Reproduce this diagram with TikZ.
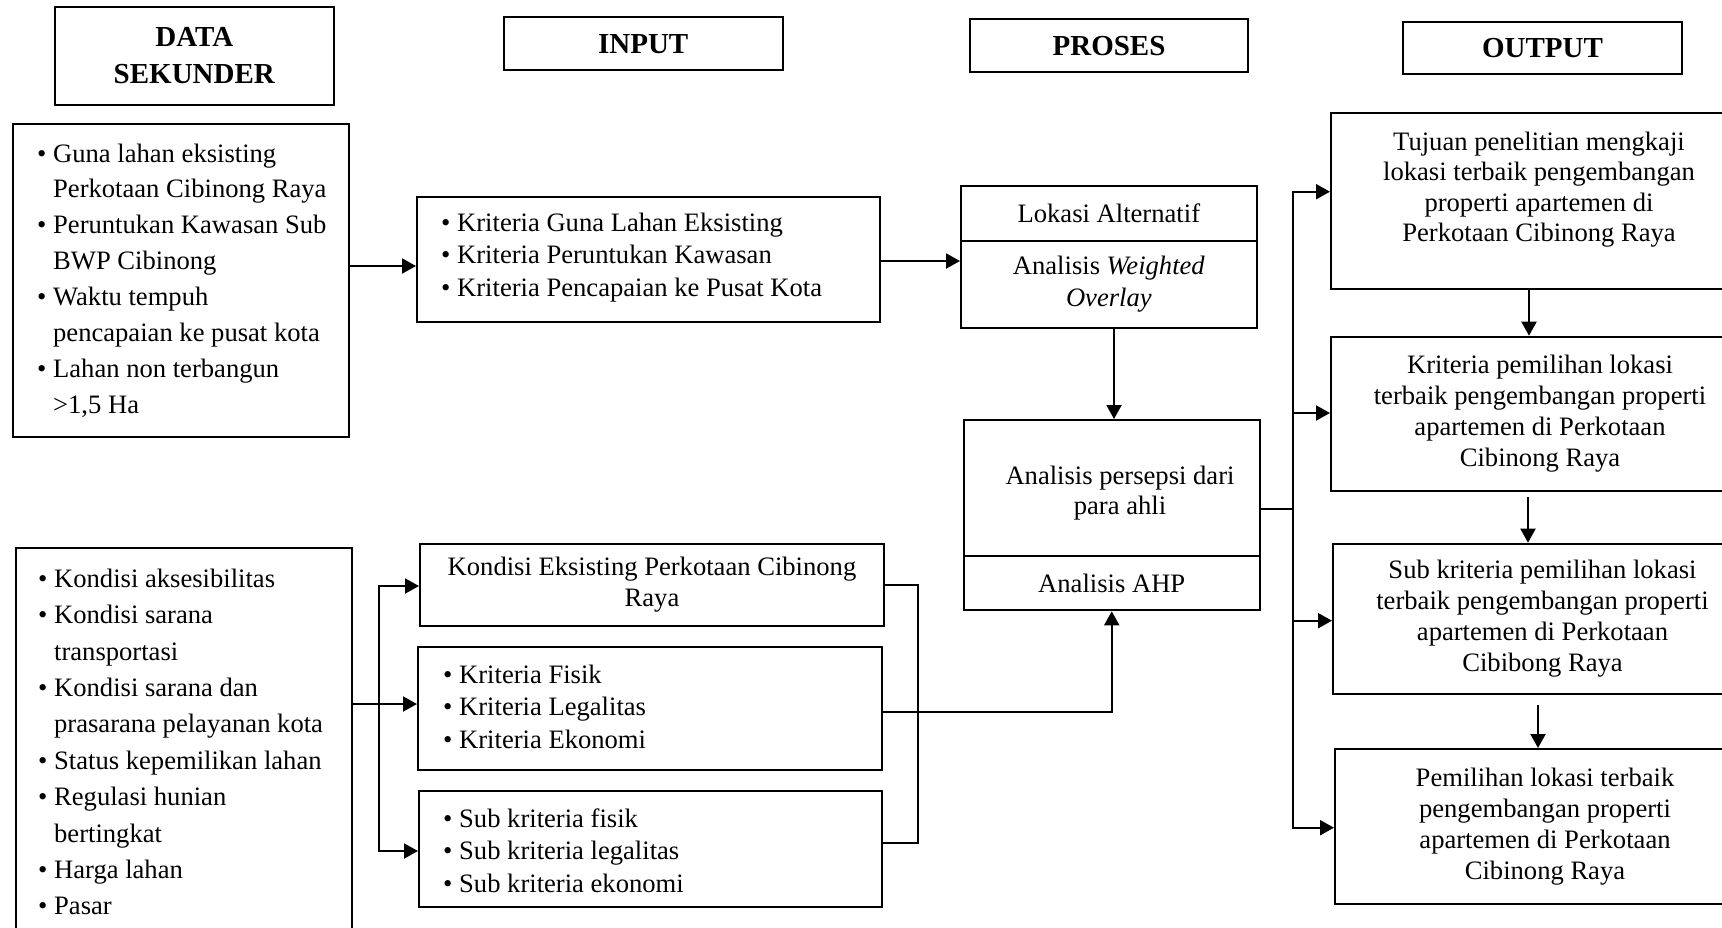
\documentclass[tikz,border=0pt]{standalone}
\usepackage{fontspec}
\setmainfont{Liberation Serif}
\usetikzlibrary{arrows.meta}
\newcommand\myb{\textbullet\ }
\newcommand\myi{\phantom{\textbullet\ }}
\begin{document}
\begin{tikzpicture}[x=1pt,y=-1pt,
  box/.style={draw,line width=2pt,inner sep=0pt,anchor=north west},
  hd/.style={font=\fontsize{29}{37}\selectfont\bfseries,align=center},
  ctr/.style={font=\fontsize{26.6}{31}\selectfont,align=center},
  lst/.style={inner sep=0pt,anchor=west,align=left},
  ln/.style={line width=2pt},
  arr/.style={line width=2pt,-{Triangle[length=14pt,width=15pt]}}]
\useasboundingbox (0,0) rectangle (1722,927);
\clip (0,0) rectangle (1722,927);
\fill[white] (0,0) rectangle (1722,927);

% headers
\node[box,hd,minimum width=279.4pt,minimum height=98pt] (hdata) at (53.6,6) {DATA\\SEKUNDER};
\node[box,hd,minimum width=279pt,minimum height=53.3pt] (hin) at (502.7,16) {INPUT};
\node[box,hd,minimum width=278pt,minimum height=52.7pt] (hpro) at (969,18.3) {PROSES};
\node[box,hd,minimum width=279pt,minimum height=52.6pt] (hout) at (1402,20.7) {OUTPUT};

% data sekunder
\node[box,minimum width=336pt,minimum height=313pt] (sek1) at (12,123) {};
\node[lst,font=\fontsize{26.6}{35.9}\selectfont] (sek1t) at (37,280.5) {\myb Guna lahan eksisting\\
\myi Perkotaan Cibinong Raya\\
\myb Peruntukan Kawasan Sub\\
\myi BWP Cibinong\\
\myb Waktu tempuh\\
\myi pencapaian ke pusat kota\\
\myb Lahan non terbangun\\
\myi >1,5 Ha};

\node[box,minimum width=336pt,minimum height=390pt] (sek2) at (14.5,547) {};
\node[lst,font=\fontsize{26.6}{36.4}\selectfont] (sek2t) at (38,742) {\myb Kondisi aksesibilitas\\
\myb Kondisi sarana\\
\myi transportasi\\
\myb Kondisi sarana dan\\
\myi prasarana pelayanan kota\\
\myb Status kepemilikan lahan\\
\myb Regulasi hunian\\
\myi bertingkat\\
\myb Harga lahan\\
\myb Pasar};

% input
\node[box,minimum width=463pt,minimum height=125pt] (in1) at (416,196) {};
\node[lst,font=\fontsize{26.6}{32.5}\selectfont] (in1t) at (441,257.5) {\myb Kriteria Guna Lahan Eksisting\\
\myb Kriteria Peruntukan Kawasan\\
\myb Kriteria Pencapaian ke Pusat Kota};

\node[box,ctr,minimum width=464pt,minimum height=82pt] (in2) at (419,543) {Kondisi Eksisting Perkotaan Cibinong\\Raya};

\node[box,minimum width=464pt,minimum height=123pt] (in3) at (417,646) {};
\node[lst,font=\fontsize{26.6}{32.5}\selectfont] (in3t) at (443,706.5) {\myb Kriteria Fisik\\
\myb Kriteria Legalitas\\
\myb Kriteria Ekonomi};

\node[box,minimum width=463pt,minimum height=116pt] (in4) at (418,790) {};
\node[lst,font=\fontsize{26.6}{32.5}\selectfont] (in4t) at (443,850.5) {\myb Sub kriteria fisik\\
\myb Sub kriteria legalitas\\
\myb Sub kriteria ekonomi};

% proses
\node[box,ctr,minimum width=295.7pt,minimum height=55pt] (lokA) at (960,185) {Lokasi Alternatif};
\node[box,ctr,font=\fontsize{26.6}{32}\selectfont,minimum width=295.7pt,minimum height=86.7pt] (lokB) at (960,240) {Analisis \textit{Weighted}\\\textit{Overlay}};
\node[box,minimum width=296.5pt,minimum height=136pt] (ahpA) at (962.5,419) {};
\node[ctr,inner sep=0pt,font=\fontsize{26.6}{30}\selectfont] (ahpAt) at (1120,493) {Analisis persepsi dari\\para ahli};
\node[box,ctr,minimum width=296.5pt,minimum height=54.3pt] (ahpB) at (962.5,555) {Analisis AHP};

% output
\node[box,minimum width=418pt,minimum height=176.6pt] (out1) at (1330,111.7) {};
\node[ctr,inner sep=0pt,font=\fontsize{26.6}{30.3}\selectfont] (out1t) at (1539,189.5) {Tujuan penelitian mengkaji\\lokasi terbaik pengembangan\\properti apartemen di\\Perkotaan Cibinong Raya};
\node[box,ctr,minimum width=418pt,minimum height=154.3pt] (out2) at (1330,335.7) {Kriteria pemilihan lokasi\\terbaik pengembangan properti\\apartemen di Perkotaan\\Cibinong Raya};
\node[box,ctr,minimum width=419pt,minimum height=150.3pt] (out3) at (1332,542.7) {Sub kriteria pemilihan lokasi\\terbaik pengembangan properti\\apartemen di Perkotaan\\Cibibong Raya};
\node[box,ctr,minimum width=420pt,minimum height=155pt] (out4) at (1334,748) {Pemilihan lokasi terbaik\\pengembangan properti\\apartemen di Perkotaan\\Cibinong Raya};

% helper coordinates
\coordinate (y266) at (0,266);
\coordinate (y261) at (0,261);
\coordinate (x1114) at (1114,0);
\coordinate (y704) at (0,704);
\coordinate (y586) at (0,586);
\coordinate (y851) at (0,851);
\coordinate (y585) at (0,585);
\coordinate (y843) at (0,843);
\coordinate (y712) at (0,712);
\coordinate (b1) at (379,704);
\coordinate (b2) at (918,843);
\coordinate (ob) at (1293,509);
\coordinate (y192) at (0,191.7);
\coordinate (y413) at (0,413);
\coordinate (y621) at (0,620.7);
\coordinate (y828) at (0,827.7);
\coordinate (x1529) at (1529,0);
\coordinate (o23) at (1528,497);
\coordinate (o34) at (1538,705);

% connectors
\draw[arr] (sek1.east |- y266) -- (in1.west |- y266);
\draw[arr] (in1.east |- y261) -- (lokB.west |- y261);
\draw[arr] (lokB.south -| x1114) -- (ahpA.north -| x1114);

\draw[arr] (sek2.east |- y704) -- (in3.west |- y704);
\draw[arr] (b1) |- (in2.west |- y586);
\draw[arr] (b1) |- (in4.west |- y851);

\draw[ln] (in2.east |- y585) -| (b2) -- (in4.east |- y843);
\draw[arr] (in3.east |- y712) -| (ahpB.south);

\draw[ln] (ahpA.east |- ob) -- (ob);
\draw[arr] (ob) |- (out1.west |- y192);
\draw[arr] (ob) |- (out2.west |- y413);
\draw[arr] (ob) |- (out3.west |- y621);
\draw[arr] (ob) |- (out4.west |- y828);

\draw[arr] (out1.south -| x1529) -- (out2.north -| x1529);
\draw[arr] (o23) -- (o23 |- out3.north);
\draw[arr] (o34) -- (o34 |- out4.north);
\end{tikzpicture}
\end{document}
